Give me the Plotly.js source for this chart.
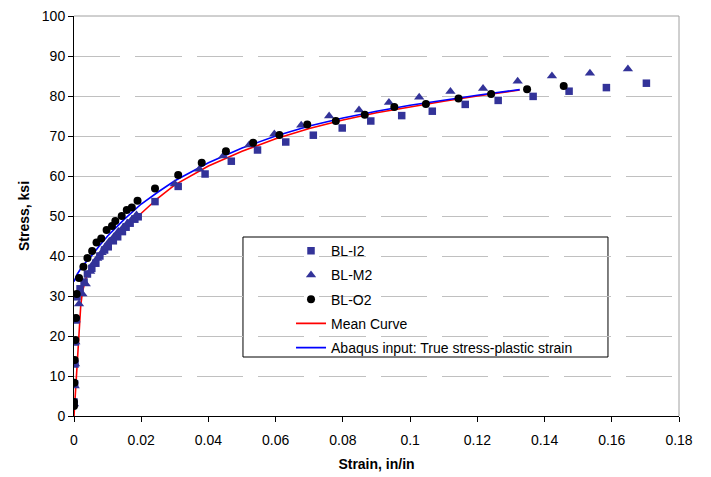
<!DOCTYPE html>
<html>
<head>
<meta charset="utf-8">
<script src="https://cdn.plot.ly/plotly-3.0.1.min.js"></script>
<style>html,body{margin:0;padding:0;background:#fff;}#chart{width:711px;height:477px;}</style>
</head>
<body>
<div id="chart"></div>
<script>
// ---- data ----
const i2Strain = [0, 0.0002, 0.0003, 0.0004, 0.0006, 0.0009, 0.0018, 0.003, 0.004, 0.0053, 0.0065, 0.0077, 0.0091, 0.0102, 0.0117, 0.013, 0.0144, 0.0155, 0.0167, 0.0181, 0.0191, 0.0241, 0.031, 0.039, 0.0468, 0.0546, 0.063, 0.0712, 0.0798, 0.0883, 0.0975, 0.1066, 0.1164, 0.1262, 0.1366, 0.1473, 0.1584, 0.1703];
const i2Stress = [3.5, 8, 13, 18.5, 24, 29.8, 31.8, 33.5, 35.5, 36.9, 38.2, 40, 41.5, 42.3, 43.8, 44.8, 46.1, 47.2, 48.2, 49.2, 49.8, 53.6, 57.4, 60.5, 63.7, 66.5, 68.5, 70.2, 72.0, 73.75, 75.1, 76.2, 77.9, 78.9, 79.9, 81.2, 82.1, 83.2];

const m2Strain = [0, 0.0002, 0.0003, 0.0004, 0.0005, 0.0015, 0.0025, 0.0035, 0.0048, 0.0057, 0.0069, 0.0082, 0.0092, 0.0105, 0.0119, 0.0132, 0.0147, 0.0159, 0.0173, 0.0186, 0.03, 0.0373, 0.0444, 0.0521, 0.0596, 0.0676, 0.0759, 0.0848, 0.0937, 0.1027, 0.112, 0.1217, 0.132, 0.1422, 0.1535, 0.1648];
const m2Stress = [3, 7.5, 13, 18.5, 24, 28, 30.5, 33, 36.1, 38, 39.4, 40.8, 42.2, 43.6, 44.8, 46.1, 47.2, 48.2, 49.2, 50.25, 58, 61.7, 65.0, 67.75, 70.5, 72.7, 75.0, 76.5, 78.4, 79.7, 81.1, 81.9, 83.7, 85.0, 85.7, 86.75];

const o2Strain = [0, 0, 0.0001, 0.0002, 0.0004, 0.0006, 0.0008, 0.0015, 0.0028, 0.004, 0.0054, 0.0067, 0.0081, 0.0097, 0.0113, 0.0123, 0.0142, 0.0157, 0.0172, 0.0189, 0.0241, 0.031, 0.038, 0.0452, 0.0533, 0.0611, 0.0694, 0.0779, 0.0865, 0.0953, 0.1047, 0.1144, 0.1241, 0.1348, 0.1457];
const o2Stress = [2.5, 3.5, 8.3, 14, 19, 24.5, 30.5, 34.5, 37.3, 39.5, 41.25, 43.4, 44.4, 46.5, 47.5, 48.75, 50, 51.5, 52.1, 53.8, 56.9, 60.25, 63.3, 66.2, 68.3, 70.25, 72.9, 73.75, 75.3, 77.25, 78.0, 79.4, 80.5, 81.7, 82.5];

const meanStrain = [0, 0.0005, 0.001, 0.0015, 0.002, 0.0025, 0.0035, 0.005, 0.0075, 0.01, 0.015, 0.02, 0.025, 0.03, 0.04, 0.05, 0.06, 0.07, 0.08, 0.09, 0.1, 0.11, 0.12, 0.13, 0.1326];
const meanStress = [0, 7, 14, 21, 27.5, 31, 34.3, 37.3, 40.5, 43, 46.8, 50.8, 54.5, 57.8, 62.5, 66.2, 69.3, 71.9, 74, 75.8, 77.3, 78.7, 80, 81.1, 81.5];

const abqStrain = [0, 0.001, 0.0025, 0.005, 0.0075, 0.01, 0.015, 0.02, 0.025, 0.03, 0.04, 0.05, 0.06, 0.07, 0.08, 0.09, 0.1, 0.11, 0.12, 0.13, 0.1326];
const abqStress = [33.6, 35.5, 37.5, 39.8, 42.5, 45, 49.2, 53, 56, 58.8, 63.3, 67, 70, 72.5, 74.5, 76.2, 77.7, 79, 80.2, 81.3, 81.6];

const seriesNames = ['BL-I2', 'BL-M2', 'BL-O2', 'Mean Curve', 'Abaqus input: True stress-plastic strain'];
const xTickVals = [0, 0.02, 0.04, 0.06, 0.08, 0.1, 0.12, 0.14, 0.16, 0.18];
const xTickText = ['0', '0.02', '0.04', '0.06', '0.08', '0.1', '0.12', '0.14', '0.16', '0.18'];
const yTickVals = [0, 10, 20, 30, 40, 50, 60, 70, 80, 90, 100];
const yTickText = ['0', '10', '20', '30', '40', '50', '60', '70', '80', '90', '100'];

const FONT = 'Liberation Sans, Arial, sans-serif';
const NAVY = '#333399';

const traces = [
  {x: meanStrain, y: meanStress, name: seriesNames[3], mode: 'lines', type: 'scatter',
   line: {color: '#FF0000', width: 1.6}, legendrank: 4, legendgroup: 'g4'},
  {x: abqStrain, y: abqStress, name: seriesNames[4], mode: 'lines', type: 'scatter',
   line: {color: '#0000FF', width: 1.6}, legendrank: 5, legendgroup: 'g5'},
  {x: i2Strain, y: i2Stress, name: seriesNames[0], mode: 'markers', type: 'scatter',
   marker: {symbol: 'square', size: 7.5, color: NAVY}, legendrank: 1, legendgroup: 'g1'},
  {x: m2Strain, y: m2Stress, name: seriesNames[1], mode: 'markers', type: 'scatter',
   marker: {symbol: 'triangle-up', size: 9, color: NAVY}, legendrank: 2, legendgroup: 'g2'},
  {x: o2Strain, y: o2Stress, name: seriesNames[2], mode: 'markers', type: 'scatter',
   marker: {symbol: 'circle', size: 8, color: '#000000'}, legendrank: 3, legendgroup: 'g3'}
];

const layout = {
  width: 711, height: 477,
  margin: {l: 74, r: 32, t: 16, b: 61},
  paper_bgcolor: '#ffffff', plot_bgcolor: '#ffffff',
  font: {family: FONT, size: 14, color: '#000'},
  showlegend: true,
  legend: {x: 0.3587, y: 0.452, xanchor: 'left', yanchor: 'top',
           bgcolor: 'rgba(0,0,0,0)', borderwidth: 0, tracegroupgap: 3,
           font: {family: FONT, size: 14, color: '#000'}},
  xaxis: {range: [0, 0.18], tickvals: xTickVals, ticktext: xTickText,
          showgrid: false, zeroline: false, showline: true, linecolor: '#000', linewidth: 1,
          ticks: 'outside', ticklen: 5, tickcolor: '#000', ticklabelstandoff: 6,
          title: {text: 'Strain, in/in', font: {family: FONT, size: 14, color: '#000', weight: 'bold'}, standoff: 12},
          automargin: false, fixedrange: true},
  yaxis: {range: [0, 100], tickvals: yTickVals, ticktext: yTickText,
          showgrid: true, gridcolor: '#C0C0C0', gridwidth: 1, griddash: '46.3px,15px',
          zeroline: false, showline: true, linecolor: '#000', linewidth: 1,
          ticks: 'outside', ticklen: 5, tickcolor: '#000',
          title: {text: 'Stress, ksi', font: {family: FONT, size: 14, color: '#000', weight: 'bold'}, standoff: 8},
          automargin: false, fixedrange: true},
  shapes: [
    {type: 'rect', xref: 'paper', yref: 'paper', x0: 0.2793, x1: 0.8826, y0: 0.1475, y1: 0.4475,
     line: {color: '#000', width: 1}, fillcolor: '#ffffff', layer: 'between'},
    {type: 'line', xref: 'paper', yref: 'paper', x0: 1, x1: 1, y0: 0, y1: 1,
     line: {color: '#A0A0A0', width: 1}},
    {type: 'line', xref: 'paper', yref: 'paper', x0: 0, x1: 1, y0: 1, y1: 1,
     line: {color: '#A0A0A0', width: 1}}
  ]
};

Plotly.newPlot('chart', traces, layout, {staticPlot: true, displayModeBar: false});
</script>
</body>
</html>
